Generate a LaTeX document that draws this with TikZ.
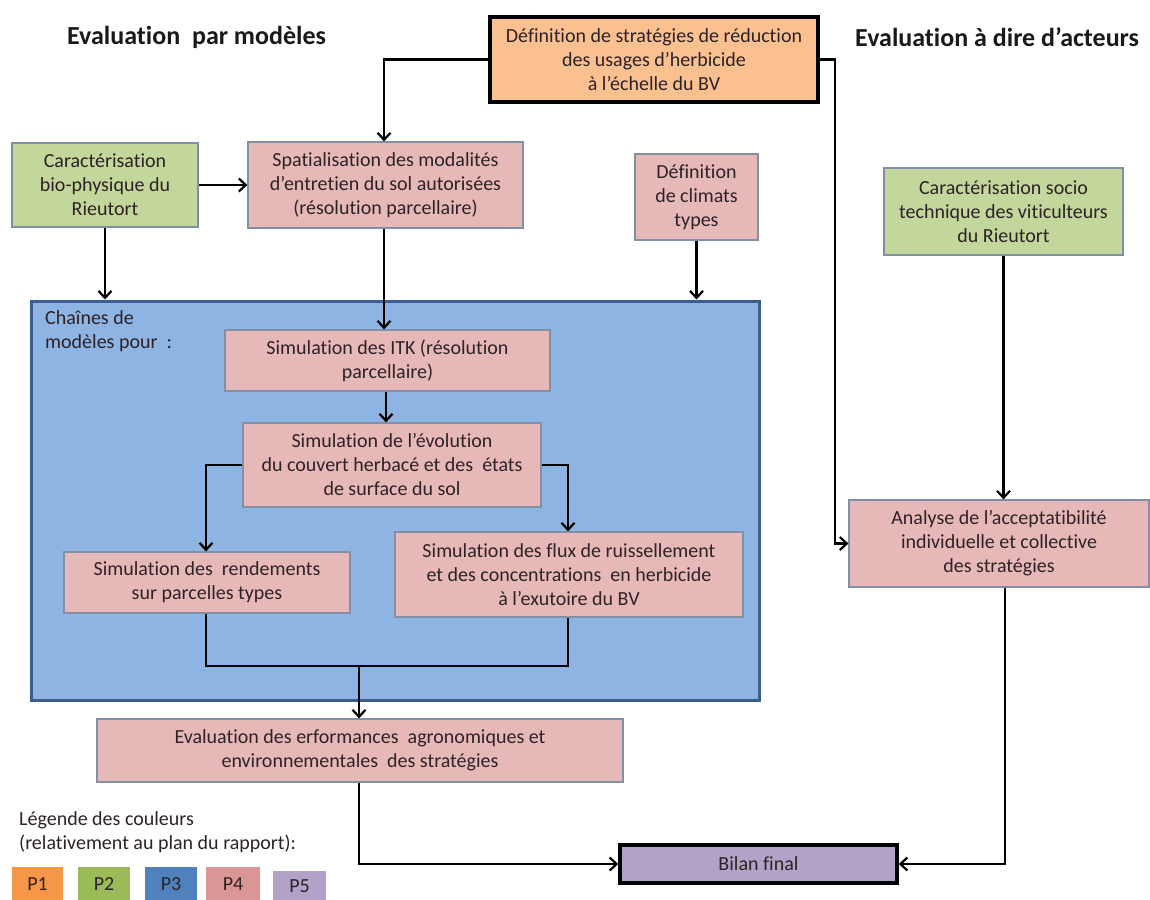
\documentclass[tikz,border=0pt]{standalone}
\usepackage{fontspec}
\setmainfont{Carlito}[Ligatures=NoCommon]
\usetikzlibrary{arrows.meta}

\definecolor{txt}{HTML}{2E2226}
\definecolor{boxline}{HTML}{8290A6}
\definecolor{orangefill}{HTML}{FAC090}
\definecolor{greenfill}{HTML}{C3D69B}
\definecolor{pinkfill}{HTML}{E6B9B8}
\definecolor{bluefill}{HTML}{8DB4E2}
\definecolor{blueline}{HTML}{3B5E8C}
\definecolor{purplefill}{HTML}{B3A2C7}
\definecolor{legP1}{HTML}{F79646}
\definecolor{legP2}{HTML}{9BBB59}
\definecolor{legP3}{HTML}{4F81BD}
\definecolor{legP4}{HTML}{D99694}
\definecolor{legP5}{HTML}{B3A2C7}

\tikzset{
  basebox/.style={rectangle, inner sep=0pt, align=center, text=txt,
    font=\fontsize{20}{24}\selectfont, draw=boxline, line width=1.2pt},
  greenbox/.style={basebox, fill=greenfill},
  pinkbox/.style={basebox, fill=pinkfill},
  keybox/.style={basebox, draw=black, line width=3.5pt},
  conn/.style={draw=black, line width=2.2pt},
  arr/.style={conn, -{Straight Barb[length=7pt,width=13pt]}},
  heading/.style={anchor=west, inner sep=0pt, text=black!90,
    font=\fontsize{26}{30}\selectfont\bfseries},
  swatch/.style={rectangle, inner sep=0pt, text=txt,
    font=\fontsize{20}{22}\selectfont},
  sz/.style 2 args={minimum width=#1pt, minimum height=#2pt}
}

\begin{document}
\begin{tikzpicture}[x=1pt,y=-1pt]
\useasboundingbox (0,0) rectangle (1150,899);

% headings
\node[heading] (hleft) at (67,37) {Evaluation\ \ par modèles};
\node[heading] (hright) at (855,37) {Evaluation\ à dire d’acteurs};

% model chain frame
\node[rectangle, fill=bluefill, draw=blueline, line width=3pt, sz={728}{399}] (chain) at (395,500.5) {};
\node[anchor=north west, inner sep=0pt, align=left, text=txt,
  font=\fontsize{20}{24}\selectfont] (chainlbl) at (45,310) {Chaînes de\\modèles pour\ \ :};

% boxes
\node[keybox, fill=orangefill, sz={328}{85}] (strat) at (654,59.5)
  {Définition de stratégies de réduction\\des usages d’herbicide\\à l’échelle du BV};
\node[greenbox, sz={186}{84}] (bio) at (105,185)
  {Caractérisation\\bio-physique du\\Rieutort};
\node[pinkbox, sz={275}{86}] (spat) at (385.5,185)
  {Spatialisation des modalités\\d’entretien du sol autorisées\\(résolution parcellaire)};
\node[pinkbox, sz={123}{86}] (clim) at (696.5,197)
  {Définition\\de climats\\types};
\node[greenbox, sz={239}{87}] (socio) at (1003.5,211.5)
  {Caractérisation socio\\technique des viticulteurs\\du Rieutort};
\node[pinkbox, sz={300}{87}] (accept) at (999,543.5)
  {Analyse de l’acceptatibilité\\individuelle et collective\\des stratégies};
\node[pinkbox, sz={325}{61}] (itk) at (387.5,360.5)
  {Simulation des ITK (résolution\\parcellaire)};
\node[pinkbox, sz={298}{84}] (evol) at (392,465)
  {Simulation de l’évolution\\du couvert herbacé et des\ \ états\\de surface du sol};
\node[pinkbox, sz={286}{61}] (rend) at (207,582.5)
  {Simulation des\ \ rendements\\sur parcelles types};
\node[pinkbox, sz={348}{85}] (flux) at (569,574.5)
  {Simulation des flux de ruissellement\\et des concentrations\ \ en herbicide\\à l’exutoire du BV};
\node[pinkbox, sz={526}{63}] (perf) at (360,750.5)
  {Evaluation des erformances\ \ agronomiques et\\environnementales\ \ des stratégies};
\node[keybox, fill=purplefill, sz={277}{38}] (bilan) at (758.5,864) {Bilan final};

% connectors
\draw[arr] (strat.west) -| ([xshift=-1.5pt]spat.north);
\draw[arr] (strat.east) -- ++(15,0) |- (accept.west);
\draw[arr] (bio.east) -- (spat.west);
\draw[arr] (bio.south) -- (bio.south |- chain.north);
\draw[arr] ([xshift=-1.5pt]spat.south) -- ([xshift=-1.5pt]spat.south |- itk.north);
\draw[arr] (clim.south) -- (clim.south |- chain.north);
\draw[arr] (socio.south) -- (socio.south |- accept.north);
\draw[arr] ([xshift=-1.5pt]itk.south) -- ([xshift=-1.5pt]itk.south |- evol.north);
\draw[arr] (evol.west) -| ([xshift=-1pt]rend.north);
\draw[arr] (evol.east) -| ([xshift=-1pt]flux.north);
\coordinate (merge) at (359,666);
\draw[conn] ([xshift=-1pt]rend.south) |- ([xshift=-1pt]flux.south |- merge) -- ([xshift=-1pt]flux.south);
\draw[arr] (merge) -- (merge |- perf.north);
\draw[arr] ([xshift=-1pt]perf.south) |- (bilan.west);
\draw[arr] ([xshift=6pt]accept.south) |- (bilan.east);

% colour key
\node[anchor=north west, inner sep=0pt, align=left, text=txt,
  font=\fontsize{20}{24}\selectfont] (keytxt) at (19,811)
  {Légende des couleurs\\(relativement au plan du rapport):};
\node[swatch, fill=legP1, sz={51}{34}] (k1) at (37.5,884) {P1};
\node[swatch, fill=legP2, sz={52}{34}] (k2) at (104,884) {P2};
\node[swatch, fill=legP3, sz={52}{34}] (k3) at (171,884) {P3};
\node[swatch, fill=legP4, sz={54}{34}] (k4) at (233,884) {P4};
\node[swatch, fill=legP5, sz={53}{31}] (k5) at (299.5,886) {P5};
\end{tikzpicture}
\end{document}
